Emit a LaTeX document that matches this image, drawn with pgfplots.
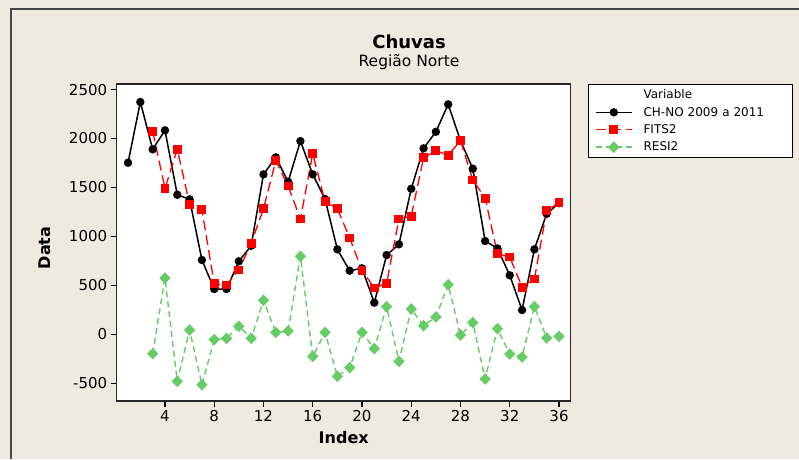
\documentclass[border=0pt]{standalone}
\usepackage{pgfplots}
\pgfplotsset{compat=1.18}
\usepackage{fontspec}
\setmainfont{DejaVu Sans}
\definecolor{bgbeige}{RGB}{238,234,224}
\definecolor{framegray}{RGB}{70,70,70}
\definecolor{resgreen}{RGB}{102,204,102}
\definecolor{fitred}{RGB}{255,0,0}
\begin{document}
\begin{tikzpicture}
\useasboundingbox (0pt,0pt) rectangle (799pt,-459pt);
\fill[bgbeige] (0pt,0pt) rectangle (799pt,-459pt);
\draw[framegray, line width=2pt] (11pt,-459pt) -- (11pt,-9pt) -- (799pt,-9pt);
\node[font=\fontsize{18}{20}\selectfont\bfseries] at (409pt,-42pt) {Chuvas};
\node[font=\fontsize{15.5}{18}\selectfont] at (409pt,-62pt) {Região Norte};
\begin{axis}[
  scale only axis,
  width=454pt, height=317pt,
  at={(116.7pt,-401pt)}, anchor=south west,
  xmin=0.08, xmax=36.95,
  ymin=-681, ymax=2557,
  xtick={4,8,...,36},
  ytick={-500,0,500,1000,1500,2000,2500},
  tick align=outside,
  xtick pos=left, ytick pos=left,
  major tick length=6pt,
  axis line style={line width=1.4pt, black!85},
  every tick/.style={black, line width=1.2pt},
  /pgf/number format/assume math mode=true,
  /pgf/number format/1000 sep={},
  tick label style={font=\fontsize{15}{18}\selectfont},
  xlabel={Index}, ylabel={Data},
  label style={font=\fontsize{16}{18}\selectfont\bfseries},
  xlabel style={at={(axis description cs:0.5,-0.115)}, anchor=center},
  ylabel style={at={(axis description cs:-0.158,0.483)}, anchor=center},
  axis background/.style={fill=white},
  legend style={at={(axis description cs:1.0388,1)}, anchor=north west,
    draw=black, line width=1pt, fill=white,
    font=\fontsize{12}{13}\selectfont,
    row sep=3pt, inner xsep=6pt, inner ysep=3pt,
    text width=141pt},
  legend cell align=left,
  legend image code/.code={%
    \draw[mark repeat=2,mark phase=2] plot coordinates {(1pt,0pt) (19pt,0pt) (37pt,0pt)};
    \path (46pt,0pt);},
]
\addlegendimage{empty legend}
\addlegendentry{Variable}
\addplot[black, line width=1.5pt, mark=*, mark size=3.4pt, mark options={solid}] coordinates {
(1,1753) (2,2373) (3,1890) (4,2084) (5,1426) (6,1379) (7,759) (8,463) (9,463)
(10,746) (11,905) (12,1634) (13,1808) (14,1559) (15,1974) (16,1634) (17,1382)
(18,868) (19,650) (20,674) (21,323) (22,810) (23,919) (24,1487) (25,1900)
(26,2069) (27,2349) (28,1978) (29,1692) (30,953) (31,878) (32,603) (33,248)
(34,868) (35,1232) (36,1340)};
\addlegendentry{CH-NO 2009 a 2011}
\addplot[fitred, line width=1.3pt, dash pattern=on 10pt off 5pt, mark=square*, mark size=3.8pt, mark options={solid}] coordinates {
(3,2074) (4,1491) (5,1890) (6,1328) (7,1273) (8,517) (9,504) (10,657) (11,930)
(12,1283) (13,1773) (14,1515) (15,1178) (16,1845) (17,1359) (18,1283) (19,984)
(20,654) (21,473) (22,521) (23,1178) (24,1208) (25,1804) (26,1875) (27,1831)
(28,1978) (29,1576) (30,1392) (31,823) (32,790) (33,483) (34,565) (35,1263) (36,1344)};
\addlegendentry{FITS2}
\addplot[resgreen, line width=1.4pt, dash pattern=on 6pt off 4pt, mark=diamond*, mark size=4.8pt, mark options={solid, xscale=1.3}] coordinates {
(3,-197) (4,575) (5,-480) (6,44) (7,-514) (8,-54) (9,-41) (10,82) (11,-41)
(12,348) (13,20) (14,34) (15,797) (16,-225) (17,20) (18,-429) (19,-340) (20,20)
(21,-146) (22,283) (23,-276) (24,259) (25,89) (26,177) (27,508) (28,-7) (29,120)
(30,-456) (31,58) (32,-201) (33,-232) (34,283) (35,-37) (36,-20)};
\addlegendentry{RESI2}
\end{axis}
\end{tikzpicture}
\end{document}
